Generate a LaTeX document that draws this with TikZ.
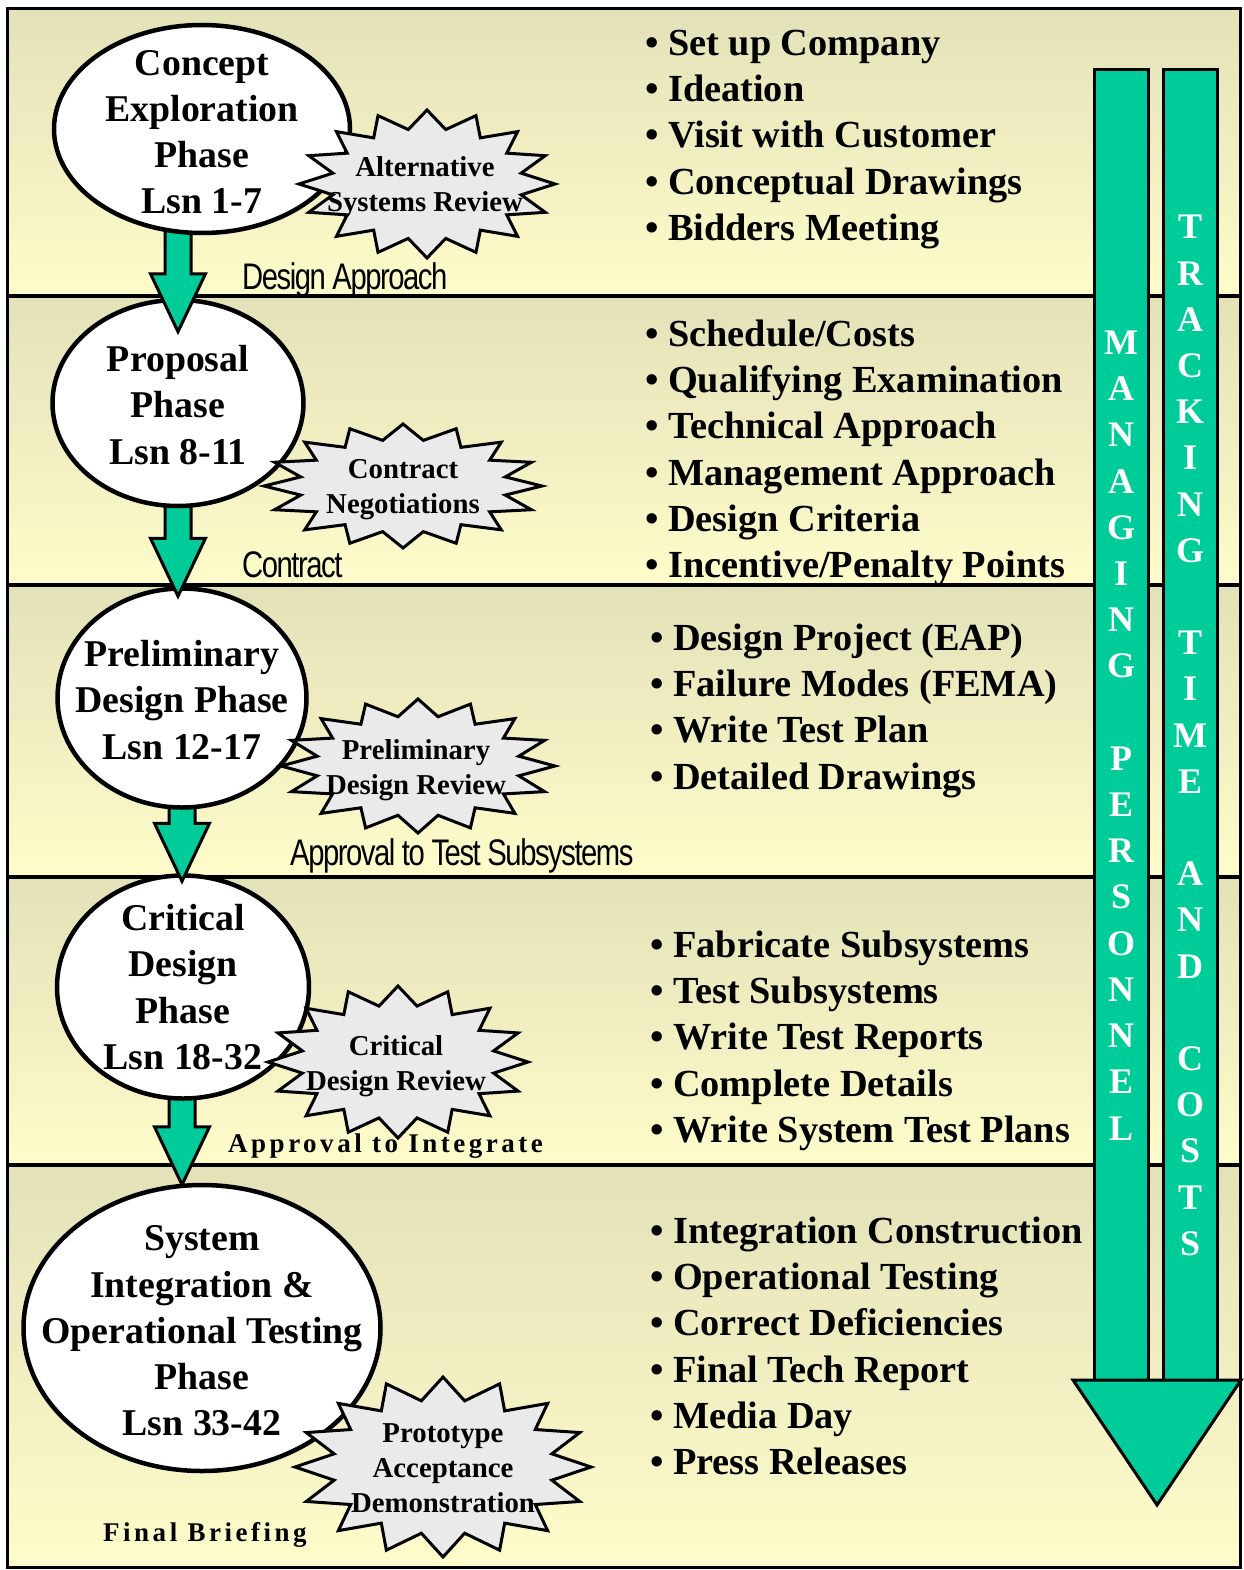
\documentclass[tikz,border=0pt]{standalone}
\usepackage{fontspec}
\setmainfont{Liberation Serif}
\newfontfamily\labelsans{Liberation Sans}[LetterSpace=-5]
\newfontfamily\spacedserif{Liberation Serif}[LetterSpace=13]
\usetikzlibrary{calc,shapes.geometric}

\definecolor{bandtop}{RGB}{227,225,184}
\definecolor{bandbot}{RGB}{254,252,202}
\definecolor{flowgreen}{RGB}{0,204,153}
\definecolor{burstgrey}{RGB}{234,234,234}

% block arrow from a start point down to a tip point
\newcommand\flowarrow[2]{%
  \draw[flowarrow] let \p1=(#1), \p2=(#2) in
    (\x2-13pt,\y1) -- (\x2-13pt,\y2+58pt) -- (\x2-27.5pt,\y2+58pt) -- (\x2,\y2)
    -- (\x2+27.5pt,\y2+58pt) -- (\x2+13pt,\y2+58pt) -- (\x2+13pt,\y1) -- cycle;}

% sixteen-point burst: centre x, centre y, x radius, y radius
\newcommand\burst[4]{%
  \begin{scope}[shift={(#1,#2)}]
    \draw[burstline] (0:#3 and #4)
      \foreach \k [evaluate=\k as \f using {ifthenelse(mod(\k,2)==0,1,0.75)}] in {1,...,31}
        { -- ({\k*11.25}:{\f*#3} and {\f*#4}) } -- cycle;
  \end{scope}}

\tikzset{
  phase/.style={ellipse, draw, line width=4.5pt, fill=white, inner sep=0pt},
  phasetext/.style={align=center, inner sep=0pt,
    font=\fontsize{37.8}{46.2}\selectfont\bfseries},
  flowarrow/.style={fill=flowgreen, draw=black, line width=3pt, line join=miter},
  burstline/.style={fill=burstgrey, draw=black, line width=3pt, line join=miter},
  bursttext/.style={align=center, inner sep=0pt,
    font=\fontsize{28.8}{35}\selectfont\bfseries},
  item/.style={anchor=base west, inner sep=0pt,
    font=\fontsize{38.3}{46.2}\selectfont\bfseries},
  gatelabel/.style={anchor=base west, inner sep=0pt},
  spacedlabel/.style={anchor=base west, inner sep=0pt,
    font=\fontsize{27}{30}\selectfont\spacedserif\bfseries},
  barletters/.style={align=center, inner sep=0pt, text=white,
    font=\fontsize{36}{46.2}\selectfont\bfseries},
  bar/.style={fill=flowgreen, draw=black, line width=3pt, line join=miter}
}

\newcommand\gatetext[1]{\scalebox{0.79}[1]{\fontsize{37}{40}\selectfont\labelsans #1}}

\begin{document}
\begin{tikzpicture}[x=1pt,y=-1pt]
\useasboundingbox (0,0) rectangle (1243,1570);

% shaded bands, one per phase
\foreach \a/\b in {9/296,296/585,585/877,877/1165,1165/1567}
  \fill[top color=bandtop, bottom color=bandbot] (7,\a) rectangle (1240,\b);
\foreach \y in {296,585,877,1165}
  \draw[line width=4pt] (7,\y) -- (1240,\y);
\draw[line width=3pt] (7,9) rectangle (1240,1567);

% phases, drawn bottom-up so each arrow sits under its source phase
\node[phase, minimum width=357pt, minimum height=286pt] (e5) at (202,1328) {};
\node[phasetext] (e5t) at (202,1331)
  {System\\Integration \&\\Operational Testing\\Phase\\Lsn 33-42};
\coordinate (s4) at (182,1070);
\coordinate (t4) at ($(e5.north)+(-20,2)$);
\flowarrow{s4}{t4}
\node[phase, minimum width=252pt, minimum height=223pt] (e4) at (183,987) {};
\node[phasetext] (e4t) at (183,987) {Critical\\Design\\Phase\\Lsn 18-32};
\coordinate (s3) at (182,780);
\coordinate (t3) at ($(e4.north)+(-1,8)$);
\flowarrow{s3}{t3}
\node[phase, minimum width=249pt, minimum height=219pt] (e3) at (182,698) {};
\node[phasetext] (e3t) at (182,700) {Preliminary\\Design Phase\\Lsn 12-17};
\coordinate (s2) at (178,480);
\coordinate (t2) at ($(e3.north)+(-4,10)$);
\flowarrow{s2}{t2}
\node[phase, minimum width=251pt, minimum height=206pt] (e2) at (178,403) {};
\node[phasetext] (e2t) at (178,405) {Proposal\\Phase\\Lsn 8-11};
\coordinate (s1) at (178,200);
\coordinate (t1) at ($(e2.north)+(0,34)$);
\flowarrow{s1}{t1}
\node[phase, minimum width=296pt, minimum height=208pt] (e1) at (202,129) {};
\node[phasetext] (e1t) at (202,132) {Concept\\Exploration\\Phase\\Lsn 1-7};

% reviews between phases
\burst{427}{184}{128}{74}
\node[bursttext] (r1) at (425,187) {Alternative\\Systems Review};
\burst{403}{486}{139}{62}
\node[bursttext] (r2) at (403,490) {Contract\\Negotiations};
\burst{418}{766}{137}{67}
\node[bursttext] (r3) at (416,770) {Preliminary\\Design Review};
\burst{398}{1062}{130}{76}
\node[bursttext] (r4) at (396,1066) {Critical\\Design Review};
\burst{443}{1467}{148}{90}
\node[bursttext] (r5) at (443,1468) {Prototype\\Acceptance\\Demonstration};

% gate labels
\node[gatelabel] (g1) at (242,289) {\gatetext{Design Approach}};
\node[gatelabel] (g2) at (242,577) {\gatetext{Contract}};
\node[gatelabel] (g3) at (290,865) {\gatetext{Approval to Test Subsystems}};
\node[spacedlabel] (g4) at (228,1152) {Approval to Integrate};
\node[spacedlabel] (g5) at (103,1541) {Final Briefing};

% activities per phase
\foreach \t [count=\i from 0] in {Set up Company, Ideation, Visit with Customer,
    Conceptual Drawings, Bidders Meeting}
  \node[item] (a1-\i) at (645,55.5+46.2*\i) {\textbullet\ \t};
\foreach \t [count=\i from 0] in {Schedule/Costs, Qualifying Examination,
    Technical Approach, Management Approach, Design Criteria,
    Incentive/Penalty Points}
  \node[item] (a2-\i) at (645,346.5+46.2*\i) {\textbullet\ \t};
\foreach \t [count=\i from 0] in {Design Project (EAP), Failure Modes (FEMA),
    Write Test Plan, Detailed Drawings}
  \node[item] (a3-\i) at (650,650.5+46.2*\i) {\textbullet\ \t};
\foreach \t [count=\i from 0] in {Fabricate Subsystems, Test Subsystems,
    Write Test Reports, Complete Details, Write System Test Plans}
  \node[item] (a4-\i) at (650,957.5+46.2*\i) {\textbullet\ \t};
\foreach \t [count=\i from 0] in {Integration Construction, Operational Testing,
    Correct Deficiencies, Final Tech Report, Media Day, Press Releases}
  \node[item] (a5-\i) at (650,1243.5+46.2*\i) {\textbullet\ \t};

% continuous management arrow
\draw[bar] (1094,70) rectangle (1148,1380);
\draw[bar] (1163,70) rectangle (1217,1380);
\draw[bar] (1073,1380) -- (1241,1380) -- (1157,1505) -- cycle;
\node[barletters] (m1) at (1121,735.5)
  {M\\A\\N\\A\\G\\I\\N\\G\\~\\P\\E\\R\\S\\O\\N\\N\\E\\L};
\node[barletters] (m2) at (1190,735.5)
  {T\\R\\A\\C\\K\\I\\N\\G\\~\\T\\I\\M\\E\\~\\A\\N\\D\\~\\C\\O\\S\\T\\S};
\end{tikzpicture}
\end{document}
